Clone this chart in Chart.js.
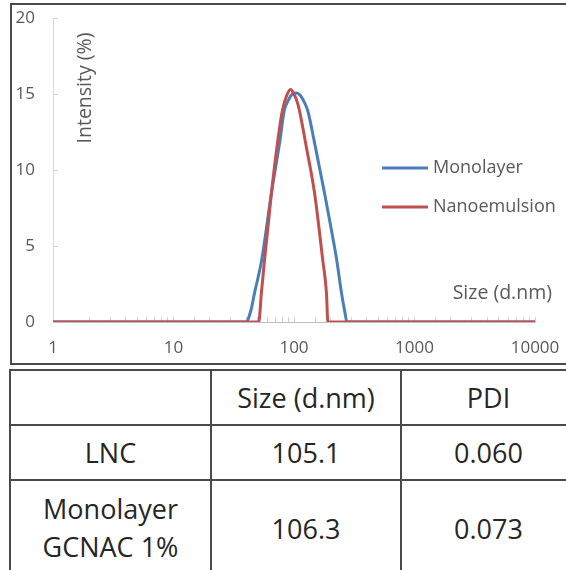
<!DOCTYPE html>
<html>
<head>
<meta charset="utf-8">
<script src="https://cdn.jsdelivr.net/npm/chart.js@4.4.1/dist/chart.umd.min.js"></script>
<style>
  html, body { margin: 0; padding: 0; background: #fff; width: 566px; height: 570px; overflow: hidden; }
  #box { position: absolute; left: 10px; top: 3px; width: 560px; height: 358px; border: 2px solid #4a4a4a; }
  #wrap { position: absolute; left: 12px; top: 5px; width: 554px; height: 358px; }
  table { position: absolute; left: 9px; top: 369px; width: 566px; border-collapse: collapse; table-layout: fixed;
          font-family: "Open Sans", sans-serif; font-size: 27px; color: #262626; }
  td { border: 2px solid #4a4a4a; text-align: center; padding: 0; line-height: 38px; }
</style>
</head>
<body>
<div id="box"></div>
<div id="wrap"><canvas id="dlsChart" width="554" height="358"></canvas></div>
<table>
  <colgroup><col style="width:201px"><col style="width:190px"><col style="width:175px"></colgroup>
  <tr style="height:55px"><td></td><td>Size (d.nm)</td><td>PDI</td></tr>
  <tr style="height:55px"><td>LNC</td><td>105.1</td><td>0.060</td></tr>
  <tr style="height:100px"><td style="vertical-align:top;padding-top:9px">Monolayer<br>GCNAC 1%</td><td style="vertical-align:top;padding-top:29px">106.3</td><td style="vertical-align:top;padding-top:29px">0.073</td></tr>
</table>
<script>
// size (d.nm) vs intensity (%)
const monolayerSize = [1, 40, 44, 47, 54, 65, 76, 83, 90, 97, 105, 113, 121, 130, 148, 179, 205, 226, 248, 265, 275, 10000];
const monolayerIntensity = [0, 0, 0.8, 1.9, 4.1, 8.5, 11.8, 13.9, 14.6, 15.0, 15.07, 14.9, 14.5, 13.9, 11.8, 8.5, 6.0, 4.1, 1.9, 0.6, 0, 0];

const nanoSize = [1, 51, 53.6, 57, 65, 73, 80, 87, 93.5, 100, 108, 115, 126, 148, 173, 186, 191, 10000];
const nanoIntensity = [0, 0, 1.9, 4.1, 8.5, 11.8, 13.9, 14.9, 15.3, 15.0, 14.3, 13.3, 11.6, 8.5, 4.1, 1.9, 0, 0];

const xTickLabels = [1, 10, 100, 1000, 10000];
const yTickStep = 5;

const FONT = '"Open Sans", sans-serif';
const legendRowY = [163, 202];

function toPoints(xs, ys) {
  return xs.map((x, i) => ({ x: x, y: ys[i] }));
}

// legend + axis titles sit inside the plot area like in the excel original
const overlayText = {
  id: 'overlayText',
  afterDraw(chart) {
    const ctx = chart.ctx;
    ctx.save();
    ctx.fillStyle = '#595959';
    ctx.font = '18px ' + FONT;
    ctx.textBaseline = 'middle';
    chart.data.datasets.forEach((ds, i) => {
      const y = legendRowY[i];
      ctx.strokeStyle = ds.borderColor;
      ctx.lineWidth = 3;
      ctx.beginPath();
      ctx.moveTo(370, y);
      ctx.lineTo(416, y);
      ctx.stroke();
      ctx.textAlign = 'left';
      ctx.fillText(ds.label, 421, y);
    });
    ctx.font = '19.5px ' + FONT;
    ctx.textAlign = 'right';
    ctx.fillText('Size (d.nm)', 540, 288);
    ctx.translate(73, 83);
    ctx.rotate(-Math.PI / 2);
    ctx.textAlign = 'center';
    ctx.fillText('Intensity (%)', 0, 0);
    ctx.restore();
  }
};

const ctx = document.getElementById('dlsChart').getContext('2d');
new Chart(ctx, {
  type: 'line',
  data: {
    datasets: [
      {
        label: 'Monolayer',
        data: toPoints(monolayerSize, monolayerIntensity),
        borderColor: '#4a7ebb',
        borderWidth: 3,
        pointRadius: 0,
        cubicInterpolationMode: 'monotone',
        order: 1
      },
      {
        label: 'Nanoemulsion',
        data: toPoints(nanoSize, nanoIntensity),
        borderColor: '#c0504d',
        borderWidth: 3,
        pointRadius: 0,
        cubicInterpolationMode: 'monotone',
        order: 0
      }
    ]
  },
  options: {
    responsive: false,
    animation: false,
    layout: { padding: { top: 13, right: 31, left: 0, bottom: 0 } },
    scales: {
      x: {
        type: 'logarithmic',
        min: 1,
        max: 10000,
        border: { color: '#bfbfbf', width: 1 },
        grid: { drawOnChartArea: false, tickLength: -5, color: '#d0d0d0' },
        ticks: {
          autoSkip: false,
          maxRotation: 0,
          padding: 21,
          color: '#595959',
          font: { family: FONT, size: 17 },
          callback: (v) => xTickLabels.includes(v) ? String(v) : ''
        },
        afterFit: (scale) => {
          scale.height = 41;
          scale.paddingLeft = 0;
          scale.paddingRight = 0;
        }
      },
      y: {
        min: 0,
        max: 20,
        border: { color: '#d9d9d9', width: 1 },
        grid: { drawOnChartArea: false, tickLength: -5, color: '#d0d0d0' },
        ticks: {
          stepSize: yTickStep,
          padding: 23,
          color: '#595959',
          font: { family: FONT, size: 17 }
        },
        afterFit: (scale) => {
          scale.width = 41;
          scale.paddingTop = 0;
          scale.paddingBottom = 0;
        }
      }
    },
    plugins: {
      legend: { display: false },
      tooltip: { enabled: false }
    }
  },
  plugins: [overlayText]
});
</script>
</body>
</html>
